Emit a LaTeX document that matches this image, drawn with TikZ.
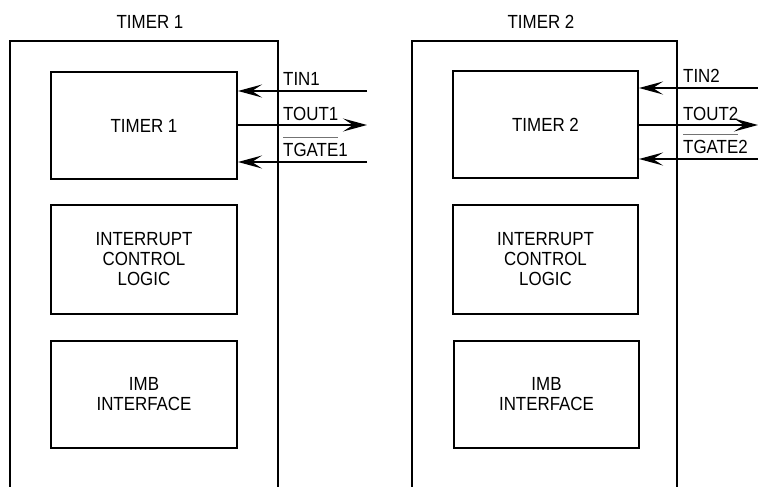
\documentclass[tikz,border=0pt]{standalone}
\usepackage{fontspec}
\setmainfont[FakeStretch=0.89]{Liberation Sans}
\usetikzlibrary{arrows.meta,positioning}
\newlength{\actlowwd}
\newcommand{\actlow}[1]{%
    \settowidth{\actlowwd}{#1}%
    \rlap{\textcolor{black!55}{\rule[18pt]{\actlowwd}{1.3pt}}}#1}

\begin{document}
\begin{tikzpicture}[
    x=1pt, y=-1pt,
    >={Stealth[length=24pt,width=13pt,inset=10pt]},
    font=\fontsize{19}{20}\selectfont,
    block/.style={draw, line width=2pt, minimum width=186pt,
        minimum height=107pt, align=center, inner sep=0pt},
    frame/.style={line width=1.8pt},
    sig/.style={line width=1.3pt},
    siglabel/.style={anchor=base west, inner sep=0pt}
]

\useasboundingbox (0,0) rectangle (758,487);

% Outer frames (open at the bottom)
\draw[frame] (10,487) -- (10,41) -- (278,41) -- (278,487);
\draw[frame] (412,487) -- (412,41) -- (677,41) -- (677,487);

% Titles
\node (title1) at (150,22) {TIMER 1};
\node (title2) at (541,22) {TIMER 2};

% Blocks of timer 1
\node[block] (timer1) at (144,125.5) {TIMER 1};
\node[block, minimum height=109pt] (irq1) at (144,259.5)
    {INTERRUPT\\CONTROL\\LOGIC};
\node[block] (imb1) at (144,394.5) {IMB\\INTERFACE};

% Blocks of timer 2
\node[block, minimum width=185pt] (timer2) at (545.5,124.5) {TIMER 2};
\node[block, minimum width=185pt, minimum height=109pt] (irq2) at (545.5,259.5)
    {INTERRUPT\\CONTROL\\LOGIC};
\node[block, minimum width=185pt] (imb2) at (546.5,394.5) {IMB\\INTERFACE};

% Signals of timer 1
\coordinate (tin1) at (367,91);
\coordinate (tout1) at (367,125);
\coordinate (tgate1) at (367,162);
\draw[sig, ->] (tin1) -- (timer1.east |- tin1);
\draw[sig, ->] (timer1.east |- tout1) -- (tout1);
\draw[sig, ->] (tgate1) -- (timer1.east |- tgate1);
\node[siglabel] (tin1lbl) at (283,85) {TIN1};
\node[siglabel] (tout1lbl) at (283,121) {TOUT1};
\node[siglabel] (tgate1lbl) at (283,156) {\actlow{TGATE}1};

% Signals of timer 2
\coordinate (tin2) at (758,88);
\coordinate (tout2) at (758,125);
\coordinate (tgate2) at (758,159);
\draw[sig, ->] (tin2) -- (timer2.east |- tin2);
\draw[sig, ->] (timer2.east |- tout2) -- (tout2);
\draw[sig, ->] (tgate2) -- (timer2.east |- tgate2);
\node[siglabel] (tin2lbl) at (683,82) {TIN2};
\node[siglabel] (tout2lbl) at (683,120) {TOUT2};
\node[siglabel] (tgate2lbl) at (683,153) {\actlow{TGATE}2};

\end{tikzpicture}
\end{document}
